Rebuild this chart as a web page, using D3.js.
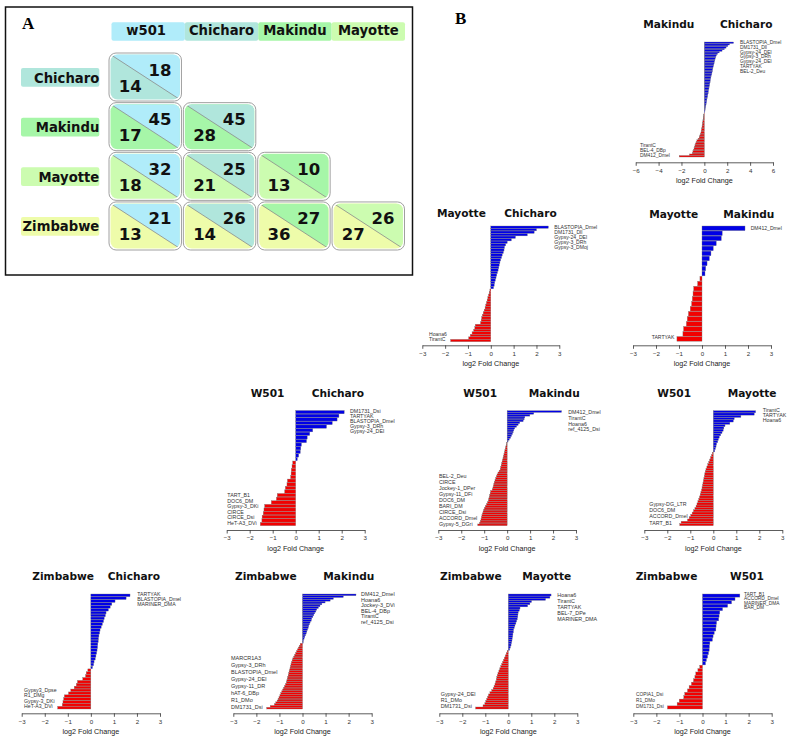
<!DOCTYPE html>
<html><head><meta charset="utf-8">
<script src="https://cdn.jsdelivr.net/npm/d3@7"></script>
<style>body{margin:0;background:#fff}</style>
</head><body>
<svg id="c" width="796" height="736" xmlns="http://www.w3.org/2000/svg"></svg>
<script>
// ---------- Panel A data ----------
const popCols = ["w501", "Chicharo", "Makindu", "Mayotte"];
const popRows = ["Chicharo", "Makindu", "Mayotte", "Zimbabwe"];
const upperCounts = [[18], [45, 45], [32, 25, 10], [21, 26, 27, 26]];
const lowerCounts = [[14], [17, 28], [18, 21, 13], [13, 14, 36, 27]];
const popColors = {w501: "#b0ecfa", Chicharo: "#b0e6dc", Makindu: "#a6f6a8", Mayotte: "#ccfcb0", Zimbabwe: "#eefcaa"};

// ---------- Panel B data (log2 fold change, sorted) ----------
const ticksWide = [-6, -4, -2, 0, 2, 4, 6];
const ticksStd = [-3, -2, -1, 0, 1, 2, 3];

const mkChUp = [2.55,2.2,2.05,1.9,1.75,1.55,1.3,1.15,1.05,1.0,0.95,0.92,0.88,0.85,0.82,0.78,0.75,0.72,0.7,0.67,0.64,0.6,0.57,0.54,0.52,0.5,0.47,0.45,0.42,0.4,0.37,0.35,0.33,0.3,0.28,0.25,0.22,0.2,0.18,0.15,0.13,0.1,0.08,0.06,0.04];
const mkChDown = [-0.03,-0.05,-0.08,-0.1,-0.12,-0.14,-0.16,-0.18,-0.2,-0.22,-0.25,-0.28,-0.3,-0.35,-0.4,-0.45,-0.55,-0.65,-0.72,-0.78,-0.82,-0.86,-0.9,-0.95,-1.0,-1.05,-1.3,-2.2];
const mkChRight = ["BLASTOPIA_Dmel","DM1731_Dll","Gypsy-24_DEl","Gypsy-3_DRh","Gypsy-24_DEl","TARTYAK","BEL-2_Deu"];
const mkChLeft = ["TirantC","BEL-4_DBp","DM412_Dmel"];

const myChUp = [2.52,2.0,1.9,1.6,1.08,0.9,0.72,0.65,0.6,0.58,0.55,0.5,0.47,0.43,0.4,0.37,0.35,0.32,0.29,0.26,0.23,0.2,0.17,0.15,0.12];
const myChDown = [-0.04,-0.07,-0.1,-0.13,-0.16,-0.19,-0.22,-0.25,-0.29,-0.33,-0.37,-0.4,-0.42,-0.45,-0.68,-0.7,-0.75,-0.82,-0.9,-0.97,-1.76];
const myChRight = ["BLASTOPIA_Dmel","DM1731_Dll","Gypsy-24_DEl","Gypsy-3_DRh","Gypsy-3_DMoj"];
const myChLeft = ["Hoana6","TirantC"];

const myMkUp = [1.87,0.88,0.84,0.62,0.49,0.39,0.32,0.22,0.16,0.13];
const myMkDown = [-0.09,-0.19,-0.36,-0.39,-0.42,-0.45,-0.51,-0.59,-0.64,-0.68,-0.8,-0.83,-1.09];
const myMkRight = ["DM412_Dmel"];
const myMkLeft = ["TARTYAK"];

const wChUp = [2.11,1.88,1.8,1.59,1.34,0.74,0.61,0.5,0.47,0.25,0.22,0.2,0.13,0.07];
const wChDown = [-0.13,-0.16,-0.19,-0.2,-0.22,-0.36,-0.38,-0.45,-0.48,-0.8,-0.84,-1.06,-1.35,-1.38,-1.41,-1.46,-1.47,-1.54];
const wChRight = ["DM1731_Dsi","TARTYAK","BLASTOPIA_Dmel","Gypsy-3_DRh","Gypsy-24_DEl"];
const wChLeft = ["TART_B1","DOC6_DM","Gypsy-3_DKi","CIRCE","CIRCE_Dsi","HeT-A3_DVi"];

const wMkUp = [2.37,1.16,0.99,0.77,0.74,0.7,0.55,0.48,0.41,0.33,0.29,0.26,0.23,0.19,0.15,0.09,0.04];
const wMkDown = [-0.02,-0.04,-0.06,-0.08,-0.1,-0.12,-0.14,-0.16,-0.18,-0.2,-0.22,-0.24,-0.26,-0.28,-0.3,-0.35,-0.4,-0.44,-0.47,-0.5,-0.53,-0.56,-0.58,-0.6,-0.62,-0.65,-0.72,-0.74,-0.76,-0.78,-0.8,-0.82,-0.86,-0.9,-0.95,-0.99,-1.02,-1.05,-1.08,-1.1,-1.12,-1.14,-1.17,-1.2,-1.28];
const wMkRight = ["DM412_Dmel","TirantC","Hoana6","ref_4125_Dsi"];
const wMkLeft = ["BEL-2_Deu","CIRCE","Jockey-1_DPer","Gypsy-11_DFi","DOC6_DM","BARI_DM","CIRCE_Dsi","ACCORD_Dmel","Gypsy-5_DGri"];

const wMyUp = [1.84,1.78,1.2,0.91,0.87,0.72,0.51,0.46,0.43,0.38,0.32,0.26,0.22,0.19,0.14,0.12,0.09,0.06];
const wMyDown = [-0.04,-0.08,-0.12,-0.16,-0.2,-0.24,-0.28,-0.32,-0.35,-0.37,-0.39,-0.41,-0.43,-0.45,-0.47,-0.49,-0.51,-0.54,-0.57,-0.6,-0.63,-0.67,-0.71,-0.75,-0.8,-0.86,-0.92,-0.98,-1.05,-1.12,-1.4,-1.46];
const wMyRight = ["TirantC","TARTYAK","Hoana6"];
const wMyLeft = ["Gypsy-DG_LTR","DOC6_DM","ACCORD_Dmel","TART_B1"];

const zChUp = [1.7,1.53,1.05,0.91,0.84,0.76,0.66,0.63,0.58,0.55,0.5,0.45,0.4,0.38,0.35,0.33,0.32,0.3,0.29,0.27,0.25,0.22,0.19,0.14,0.12,0.07];
const zChDown = [-0.13,-0.2,-0.23,-0.35,-0.58,-0.63,-0.72,-0.87,-0.97,-1.15,-1.18,-1.21,-1.24,-1.44];
const zChRight = ["TARTYAK","BLASTOPIA_Dmel","MARINER_DMA"];
const zChLeft = ["Gypsy3_Dpse","R1_DMg","Gypsy-3_DKi","HeT-A3_DVi"];

const zMkUp = [2.32,1.77,1.34,1.2,0.98,0.84,0.76,0.69,0.62,0.58,0.53,0.49,0.45,0.4,0.38,0.33,0.3,0.27,0.25,0.22,0.19,0.16,0.13,0.1,0.07,0.04,0.03];
const zMkDown = [-0.1,-0.14,-0.18,-0.22,-0.26,-0.3,-0.34,-0.38,-0.42,-0.45,-0.48,-0.5,-0.52,-0.54,-0.56,-0.58,-0.6,-0.62,-0.64,-0.66,-0.68,-0.7,-0.74,-0.78,-0.82,-0.86,-0.9,-0.94,-0.98,-1.02,-1.06,-1.1,-1.16,-1.22,-1.4,-1.55];
const zMkRight = ["DM412_Dmel","Hoana6","Jockey-3_DVi","BEL-4_DBp","TirantC","ref_4125_Dsi"];
const zMkLeft = ["MARCR1A3","Gypsy-3_DRh","BLASTOPIA_Dmel","Gypsy-24_DEl","Gypsy-11_DR","hAT-6_DBp","R1_DMo","DM1731_Dsi"];

const zMyUp = [1.86,1.81,1.62,1.01,0.94,0.84,0.51,0.48,0.43,0.42,0.41,0.39,0.36,0.33,0.29,0.26,0.23,0.22,0.2,0.19,0.17,0.16,0.14,0.12,0.09,0.06];
const zMyDown = [-0.05,-0.09,-0.13,-0.17,-0.21,-0.25,-0.29,-0.33,-0.37,-0.41,-0.45,-0.48,-0.5,-0.52,-0.55,-0.58,-0.62,-0.66,-0.72,-0.8,-0.86,-0.9,-0.94,-0.98,-1.02,-1.1,-1.42];
const zMyRight = ["Hoana6","TirantC","TARTYAK","BEL-7_DPe","MARINER_DMA"];
const zMyLeft = ["Gypsy-24_DEl","R1_DMo","DM1731_Dsi"];

const zWUp = [1.62,1.41,1.26,1.09,0.87,0.75,0.72,0.7,0.61,0.59,0.58,0.51,0.46,0.43,0.32,0.3,0.29,0.26,0.22,0.17,0.13];
const zWDown = [-0.12,-0.2,-0.29,-0.33,-0.39,-0.48,-0.58,-0.65,-0.77,-0.81,-1.01,-1.1,-1.52];
const zWRight = ["TART_B1","ACCORD_Dmel","MARINER_DMA","BAR_DM"];
const zWLeft = ["COPIA1_Dsi","R1_DMo","DM1731_Dsi"];

// ---------- layout ----------
const panels = [
  {lt:"Makindu", rt:"Chicharo", up:mkChUp, dn:mkChDown, rl:mkChRight, ll:mkChLeft, ticks:ticksWide,
   x0:635.7, x1:773, y0:42, y1:157, ax:162.3, ltx:643.3, rtx:720, ty:27.5, rlx:740, rly:42.3, rsp:4.8, llx:640, lly:155.7, lsp:5.3, fs:4.9},
  {lt:"Mayotte", rt:"Chicharo", up:myChUp, dn:myChDown, rl:myChRight, ll:myChLeft, ticks:ticksStd,
   x0:422.3, x1:559.3, y0:226, y1:341.7, ax:345.3, ltx:437, rtx:504.3, ty:217.2, rlx:554.3, rly:227.7, rsp:4.9, llx:429, lly:339.7, lsp:5.6, fs:5.1},
  {lt:"Mayotte", rt:"Makindu", up:myMkUp, dn:myMkDown, rl:myMkRight, ll:myMkLeft, ticks:ticksStd,
   x0:633, x1:771, y0:226, y1:341.2, ax:345.3, ltx:649.3, rtx:723.3, ty:218.3, rlx:750.7, rly:228.7, rsp:5, llx:651.7, lly:337.7, lsp:5.5, fs:5.1},
  {lt:"W501", rt:"Chicharo", up:wChUp, dn:wChDown, rl:wChRight, ll:wChLeft, ticks:ticksStd,
   x0:226.7, x1:364.7, y0:410.5, y1:525.7, ax:530, ltx:250.7, rtx:311.7, ty:397.3, rlx:350, rly:411, rsp:5.1, llx:227.3, lly:522.7, lsp:5.5, fs:5.3},
  {lt:"W501", rt:"Makindu", up:wMkUp, dn:wMkDown, rl:wMkRight, ll:wMkLeft, ticks:ticksStd,
   x0:438.3, x1:576, y0:410.7, y1:525.7, ax:530, ltx:463.3, rtx:528.7, ty:397.3, rlx:568.3, rly:412.3, rsp:5.7, llx:439, lly:524, lsp:6, fs:5.3},
  {lt:"W501", rt:"Mayotte", up:wMyUp, dn:wMyDown, rl:wMyRight, ll:wMyLeft, ticks:ticksStd,
   x0:644.3, x1:782.3, y0:410.7, y1:525.7, ax:530, ltx:657.3, rtx:727.7, ty:396.5, rlx:762.7, rly:410, rsp:5.3, llx:649.3, lly:522.7, lsp:6.1, fs:5.3},
  {lt:"Zimbabwe", rt:"Chicharo", up:zChUp, dn:zChDown, rl:zChRight, ll:zChLeft, ticks:ticksStd,
   x0:21.7, x1:160, y0:594, y1:709, ax:713.3, ltx:32.3, rtx:107.7, ty:579.7, rlx:137.3, rly:594.3, rsp:4.9, llx:24, lly:706, lsp:5.3, fs:5.2},
  {lt:"Zimbabwe", rt:"Makindu", up:zMkUp, dn:zMkDown, rl:zMkRight, ll:zMkLeft, ticks:ticksStd,
   x0:233.3, x1:371.7, y0:594, y1:709, ax:713.3, ltx:235, rtx:323.3, ty:579.7, rlx:361, rly:594.3, rsp:5.5, llx:231, lly:706.7, lsp:6.9, fs:5.5},
  {lt:"Zimbabwe", rt:"Mayotte", up:zMyUp, dn:zMyDown, rl:zMyRight, ll:zMyLeft, ticks:ticksStd,
   x0:439.3, x1:577.3, y0:594, y1:709, ax:713.3, ltx:440, rtx:522.3, ty:579.7, rlx:557.3, rly:595, rsp:6, llx:440.7, lly:706, lsp:6, fs:5.4},
  {lt:"Zimbabwe", rt:"W501", up:zWUp, dn:zWDown, rl:zWRight, ll:zWLeft, ticks:ticksStd,
   x0:633.3, x1:771.7, y0:594, y1:709, ax:713.3, ltx:635.7, rtx:730, ty:579.7, rlx:744, rly:594.3, rsp:4.4, llx:636, lly:706, lsp:6, fs:4.8}
];

const svg = d3.select("#c");
svg.append("rect").attr("width", 796).attr("height", 736).attr("fill", "#fff");

// ================= Panel A =================
const gA = svg.append("g");
gA.append("rect").attr("x", 5.5).attr("y", 7).attr("width", 407).attr("height", 268)
  .attr("fill", "none").attr("stroke", "#111").attr("stroke-width", 1.5);
gA.append("text").attr("x", 22).attr("y", 28.5).text("A")
  .attr("font-family", "Liberation Serif, DejaVu Serif, serif").attr("font-weight", "bold").attr("font-size", 17);

const colX = d3.scaleBand().domain(popCols).range([108.5, 405]).paddingInner(0.012);
const rowY = d3.scaleBand().domain(popRows).range([52.5, 250.5]).paddingInner(0.012);
const hdrX = d3.scaleBand().domain(popCols).range([111.5, 405]);
const boldFont = "DejaVu Sans, Verdana, sans-serif";

// column headers
popCols.forEach(c => {
  gA.append("rect").attr("x", hdrX(c)).attr("y", 22.3).attr("width", hdrX.bandwidth()).attr("height", 18.4)
    .attr("rx", 2).attr("fill", popColors[c]);
});
popCols.forEach(c => {
  gA.append("text").attr("x", hdrX(c) + hdrX.bandwidth() / 2 - (c === "w501" ? 2 : 0)).attr("y", 35.3)
    .attr("text-anchor", "middle").attr("font-family", boldFont).attr("font-weight", "bold")
    .attr("font-size", 13.2).attr("fill", "#111").text(c);
});
// row headers
popRows.forEach(r => {
  const yc = rowY(r) + rowY.bandwidth() / 2;
  gA.append("rect").attr("x", 21).attr("y", yc - 9).attr("width", 78.3).attr("height", 18.7)
    .attr("rx", 2).attr("fill", popColors[r]);
  gA.append("text").attr("x", 99.3).attr("y", yc + 5.5).attr("text-anchor", "end")
    .attr("font-family", boldFont).attr("font-weight", "bold").attr("font-size", 13.2).attr("fill", "#111").text(r);
});

// cells
const defs = svg.append("defs");
popRows.forEach((r, i) => {
  upperCounts[i].forEach((u, j) => {
    const c = popCols[j];
    const x = colX(c), y = rowY(r), w = colX.bandwidth(), h = rowY.bandwidth();
    const id = "clip" + i + "_" + j;
    defs.append("clipPath").attr("id", id).append("rect")
      .attr("x", x + 2).attr("y", y + 2).attr("width", w - 4).attr("height", h - 4).attr("rx", 7);
    const g = gA.append("g");
    g.append("rect").attr("x", x + 0.5).attr("y", y + 0.5).attr("width", w - 1).attr("height", h - 1)
      .attr("rx", 7).attr("fill", "#fff").attr("stroke", "#a0a0a0").attr("stroke-width", 1);
    const inner = g.append("g").attr("clip-path", `url(#${id})`);
    inner.append("rect").attr("x", x).attr("y", y).attr("width", w).attr("height", h).attr("fill", popColors[r]);
    inner.append("path").attr("d", `M${x + 2},${y + 2} L${x + w - 2},${y + 2} L${x + w - 2},${y + h - 2} Z`)
      .attr("fill", popColors[c]);
    inner.append("line").attr("x1", x + 2).attr("y1", y + 2).attr("x2", x + w - 2).attr("y2", y + h - 2)
      .attr("stroke", "#8a8a8a").attr("stroke-width", 0.8);
    g.append("text").attr("x", x + w - 10.5).attr("y", y + 23).attr("text-anchor", "end")
      .attr("font-family", boldFont).attr("font-weight", "bold").attr("font-size", 16.5).attr("fill", "#111").text(u);
    g.append("text").attr("x", x + 10.3).attr("y", y + 39).attr("text-anchor", "start")
      .attr("font-family", boldFont).attr("font-weight", "bold").attr("font-size", 16.5).attr("fill", "#111").text(lowerCounts[i][j]);
  });
});

// ================= Panel B =================
svg.append("text").attr("x", 455).attr("y", 24).text("B")
  .attr("font-family", "Liberation Serif, DejaVu Serif, serif").attr("font-weight", "bold").attr("font-size", 17);

const blue = "#0000e6", red = "#f20000";
panels.forEach(p => {
  const g = svg.append("g");
  const vals = p.up.concat(p.dn);
  const x = d3.scaleLinear().domain(d3.extent(p.ticks)).range([p.x0, p.x1]);
  const y = d3.scaleBand().domain(d3.range(vals.length)).range([p.y0, p.y1]).paddingInner(0.08);

  g.selectAll("rect.bar").data(vals).join("rect").attr("class", "bar")
    .attr("x", d => Math.min(x(0), x(d))).attr("width", d => Math.abs(x(d) - x(0)))
    .attr("y", (d, i) => y(i)).attr("height", y.bandwidth())
    .attr("fill", d => d > 0 ? blue : red).attr("stroke", "#7a7a7a").attr("stroke-width", 0.35);

  const ax = g.append("g").attr("transform", `translate(0,${p.ax})`)
    .call(d3.axisBottom(x).tickValues(p.ticks).tickSize(3.5).tickSizeOuter(0).tickPadding(2.5).tickFormat(d3.format("d")));
  ax.select(".domain").attr("stroke", "#333").attr("stroke-width", 0.8);
  ax.selectAll(".tick line").attr("stroke", "#333").attr("stroke-width", 0.8);
  ax.selectAll(".tick text").attr("font-family", "Liberation Sans, Arial, sans-serif").attr("font-size", 6.2).attr("fill", "#333");

  g.append("text").attr("x", (p.x0 + p.x1) / 2).attr("y", p.ax + 20.5).attr("text-anchor", "middle")
    .attr("font-family", "Liberation Sans, Arial, sans-serif").attr("font-size", 7.2).attr("fill", "#222")
    .text("log2 Fold Change");

  [[p.lt, p.ltx], [p.rt, p.rtx]].forEach(([t, tx]) => {
    g.append("text").attr("x", tx).attr("y", p.ty).attr("font-family", boldFont).attr("font-weight", "bold")
      .attr("font-size", 10.6).attr("fill", "#111").text(t);
  });

  g.selectAll("text.rl").data(p.rl).join("text").attr("class", "rl")
    .attr("x", p.rlx).attr("y", (d, i) => p.rly + i * p.rsp).attr("dy", "0.35em")
    .attr("font-family", "Liberation Sans, Arial, sans-serif").attr("font-size", p.fs).attr("fill", "#333").text(d => d);
  const nl = p.ll.length;
  g.selectAll("text.ll").data(p.ll).join("text").attr("class", "ll")
    .attr("x", p.llx).attr("y", (d, i) => p.lly - (nl - 1 - i) * p.lsp).attr("dy", "0.35em")
    .attr("font-family", "Liberation Sans, Arial, sans-serif").attr("font-size", p.fs).attr("fill", "#333").text(d => d);
});
</script>
</body></html>
